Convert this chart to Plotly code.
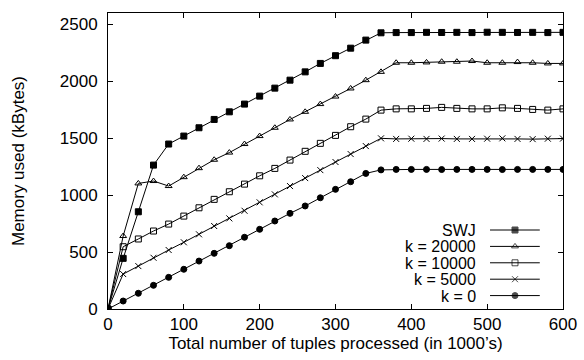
import plotly.graph_objects as go

x_vals = [0, 20, 40, 60, 80, 100, 120, 140, 160, 180, 200, 220, 240, 260, 280, 300,
          320, 340, 360, 380, 400, 420, 440, 460, 480, 500, 520, 540, 560, 580, 600]

swj = [0, 445, 854, 1264, 1449, 1519, 1592, 1665, 1732, 1800, 1870, 1940, 2010, 2083, 2157, 2225,
       2291, 2362, 2426, 2428, 2428, 2430, 2429, 2430, 2428, 2431, 2430, 2429, 2430, 2428, 2430]
k20000 = [0, 641, 1103, 1124, 1080, 1158, 1237, 1311, 1374, 1449, 1519, 1592, 1665, 1732, 1800, 1866,
          1937, 2010, 2083, 2163, 2163, 2166, 2172, 2172, 2178, 2163, 2163, 2169, 2163, 2157, 2157]
k10000 = [0, 547, 615, 685, 746, 816, 889, 963, 1030, 1097, 1170, 1235, 1308, 1385, 1455, 1525,
          1601, 1668, 1747, 1758, 1758, 1762, 1771, 1762, 1758, 1758, 1767, 1762, 1753, 1747, 1758]
k5000 = [0, 307, 377, 450, 518, 586, 656, 729, 796, 863, 937, 1007, 1080, 1150, 1220, 1291,
         1361, 1431, 1499, 1494, 1496, 1494, 1497, 1494, 1494, 1496, 1499, 1494, 1492, 1496, 1497]
k0 = [0, 70, 138, 208, 278, 349, 421, 489, 556, 630, 700, 773, 840, 905, 977, 1051,
      1118, 1191, 1222, 1226, 1226, 1226, 1225, 1226, 1226, 1226, 1225, 1226, 1226, 1226, 1226]

series_names = ["SWJ", "k = 20000", "k = 10000", "k = 5000", "k = 0"]
series_data = [swj, k20000, k10000, k5000, k0]
symbols = ["square", "triangle-up-open", "square-open", "x-thin-open", "circle"]
sizes = [6, 6, 6, 6, 6]

x_ticks = [0, 100, 200, 300, 400, 500, 600]
y_ticks = [0, 500, 1000, 1500, 2000, 2500]

FONT = "Arial"

fig = go.Figure()
for name, data, sym, sz in zip(series_names, series_data, symbols, sizes):
    fig.add_trace(go.Scatter(
        x=x_vals, y=data, mode="lines+markers", name=name, showlegend=False,
        line=dict(color="black", width=1),
        marker=dict(symbol=sym, size=sz, color="black", line=dict(color="black", width=1)),
    ))

# manual legend (text left of sample, like gnuplot)
leg_y = [0.2669, 0.2115, 0.1561, 0.1007, 0.0453]
for name, sym, sz, ly in zip(series_names, symbols, sizes, leg_y):
    fig.add_trace(go.Scatter(
        x=[0.8396, 0.8945, 0.949], y=[ly, ly, ly], mode="lines+markers",
        xaxis="x2", yaxis="y2", showlegend=False, hoverinfo="skip",
        line=dict(color="black", width=1),
        marker=dict(symbol=sym, size=[0, sz, 0], color="black", line=dict(color="black", width=1)),
    ))
    fig.add_annotation(text=name, xref="paper", yref="paper", x=0.811, y=ly,
                       xanchor="right", yanchor="middle", showarrow=False,
                       font=dict(family=FONT, size=16, color="black"),
                       height=16, borderpad=0)

axis_common = dict(showline=True, linecolor="black", linewidth=1, mirror="ticks",
                   ticks="inside", ticklen=5, tickcolor="black", tickwidth=1,
                   showgrid=False, zeroline=False, automargin=False,
                   tickfont=dict(family=FONT, size=17, color="black"))

fig.update_layout(
    width=584, height=360,
    margin=dict(l=108, r=21, t=13, b=51),
    paper_bgcolor="white", plot_bgcolor="white",
    xaxis=dict(range=[0, 600], tickvals=x_ticks,
               title=dict(text="Total number of tuples processed (in 1000’s)",
                          font=dict(family=FONT, size=17, color="black"), standoff=3),
               **axis_common),
    yaxis=dict(range=[0, 2600], tickvals=y_ticks, ticklabelstandoff=6,
               title=dict(text="Memory used (kBytes)",
                          font=dict(family=FONT, size=17, color="black"), standoff=30),
               **axis_common),
    xaxis2=dict(range=[0, 1], overlaying="x", visible=False),
    yaxis2=dict(range=[0, 1], overlaying="y", visible=False),
)

fig.write_html("out.html")
